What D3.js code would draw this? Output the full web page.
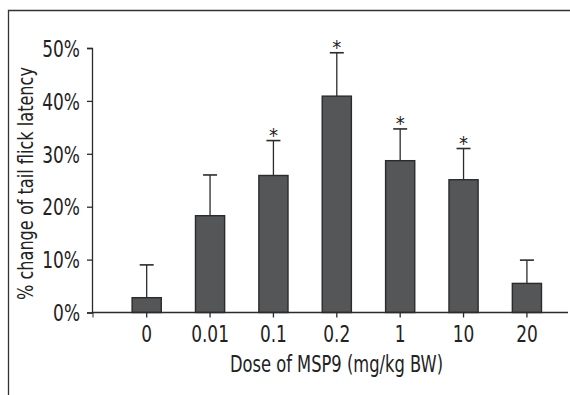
<!DOCTYPE html>
<html>
<head>
  <script src="https://d3js.org/d3.v7.min.js"></script>
  <style>
    body { margin: 0; background: #fff; }
    text { font-family: "DejaVu Sans Condensed", "DejaVu Sans", sans-serif; font-stretch: condensed; fill: #222; }
  </style>
</head>
<body>
  <svg width="570" height="395"></svg>
  <script>
    // datos
    const doses = ["0", "0.01", "0.1", "0.2", "1", "10", "20"];
    const means = [2.8, 18.3, 25.9, 40.9, 28.7, 25.1, 5.5];
    const errors = [6.2, 7.7, 6.6, 8.2, 6.0, 5.9, 4.4];
    const signif = [false, false, true, true, true, true, false];
    const yTicks = [0, 10, 20, 30, 40, 50];

    const svg = d3.select("svg");
    const dark = "#2b2b2b";

    // comprime el texto en horizontal (la fuente original es mas estrecha)
    function squeeze(sel, f) {
      sel.each(function() {
        const w = this.getComputedTextLength();
        d3.select(this).attr("textLength", w * f).attr("lengthAdjust", "spacingAndGlyphs");
      });
    }

    // marco de la figura
    svg.append("path")
      .attr("d", "M8.5,395 V10.5 H570")
      .attr("fill", "none")
      .attr("stroke", "#333")
      .attr("stroke-width", 1.3);

    const x = d3.scaleBand()
      .domain(doses)
      .range([115, 558.6])
      .paddingInner(0.54)
      .paddingOuter(0.27);

    const y = d3.scaleLinear().domain([0, 50]).range([312.5, 48]);

    const g = svg.append("g");

    // barras
    g.selectAll(".bar")
      .data(doses)
      .enter().append("rect")
      .attr("x", d => x(d))
      .attr("y", (d, i) => y(means[i]))
      .attr("width", x.bandwidth())
      .attr("height", (d, i) => y(0) - y(means[i]))
      .attr("fill", "#555657")
      .attr("stroke", dark)
      .attr("stroke-width", 1.4);

    // barras de error
    const cx = d => x(d) + x.bandwidth() / 2;
    g.selectAll(".err")
      .data(doses)
      .enter().append("line")
      .attr("x1", cx).attr("x2", cx)
      .attr("y1", (d, i) => y(means[i]))
      .attr("y2", (d, i) => y(means[i] + errors[i]))
      .attr("stroke", dark)
      .attr("stroke-width", 1.3);
    g.selectAll(".cap")
      .data(doses)
      .enter().append("line")
      .attr("x1", d => cx(d) - 7).attr("x2", d => cx(d) + 7)
      .attr("y1", (d, i) => y(means[i] + errors[i]))
      .attr("y2", (d, i) => y(means[i] + errors[i]))
      .attr("stroke", dark)
      .attr("stroke-width", 1.6);

    // asteriscos
    g.selectAll(".star")
      .data(doses.filter((d, i) => signif[i]))
      .enter().append("text")
      .attr("x", cx)
      .attr("y", d => { const i = doses.indexOf(d); return y(means[i] + errors[i]) + 1.5; })
      .attr("text-anchor", "middle")
      .style("font-family", "DejaVu Sans")
      .style("font-size", "20px")
      .text("*");

    // eje Y
    const yAxis = svg.append("g")
      .attr("transform", "translate(92,0)")
      .call(d3.axisLeft(y).tickValues(yTicks).tickFormat(d => d + "%").tickSize(5).tickPadding(7));
    yAxis.selectAll("text").style("font-size", "23px").attr("dy", "0.36em").call(squeeze, 0.82);

    // eje X
    const xAxis = svg.append("g")
      .attr("transform", "translate(0,312.5)")
      .call(d3.axisBottom(x).tickSize(5).tickPadding(8).tickSizeOuter(0));
    xAxis.select(".domain").attr("d", "M92,0 H568");
    xAxis.append("line").attr("x1", 93).attr("x2", 93).attr("y1", 0).attr("y2", 5).attr("stroke", dark);
    xAxis.selectAll("text").style("font-size", "23px").call(squeeze, 0.82);

    svg.selectAll(".domain, .tick line").attr("stroke", dark).attr("stroke-width", 1.3);

    // titulos
    svg.append("text")
      .attr("x", 336.5).attr("y", 372)
      .attr("text-anchor", "middle")
      .style("font-size", "23px")
      .text("Dose of MSP9 (mg/kg BW)")
      .attr("textLength", 213).attr("lengthAdjust", "spacingAndGlyphs");

    svg.append("text")
      .attr("transform", "translate(33,183.5) rotate(-90)")
      .attr("text-anchor", "middle")
      .style("font-size", "21px")
      .text("% change of tail flick latency")
      .attr("textLength", 233).attr("lengthAdjust", "spacingAndGlyphs");
  </script>
</body>
</html>
